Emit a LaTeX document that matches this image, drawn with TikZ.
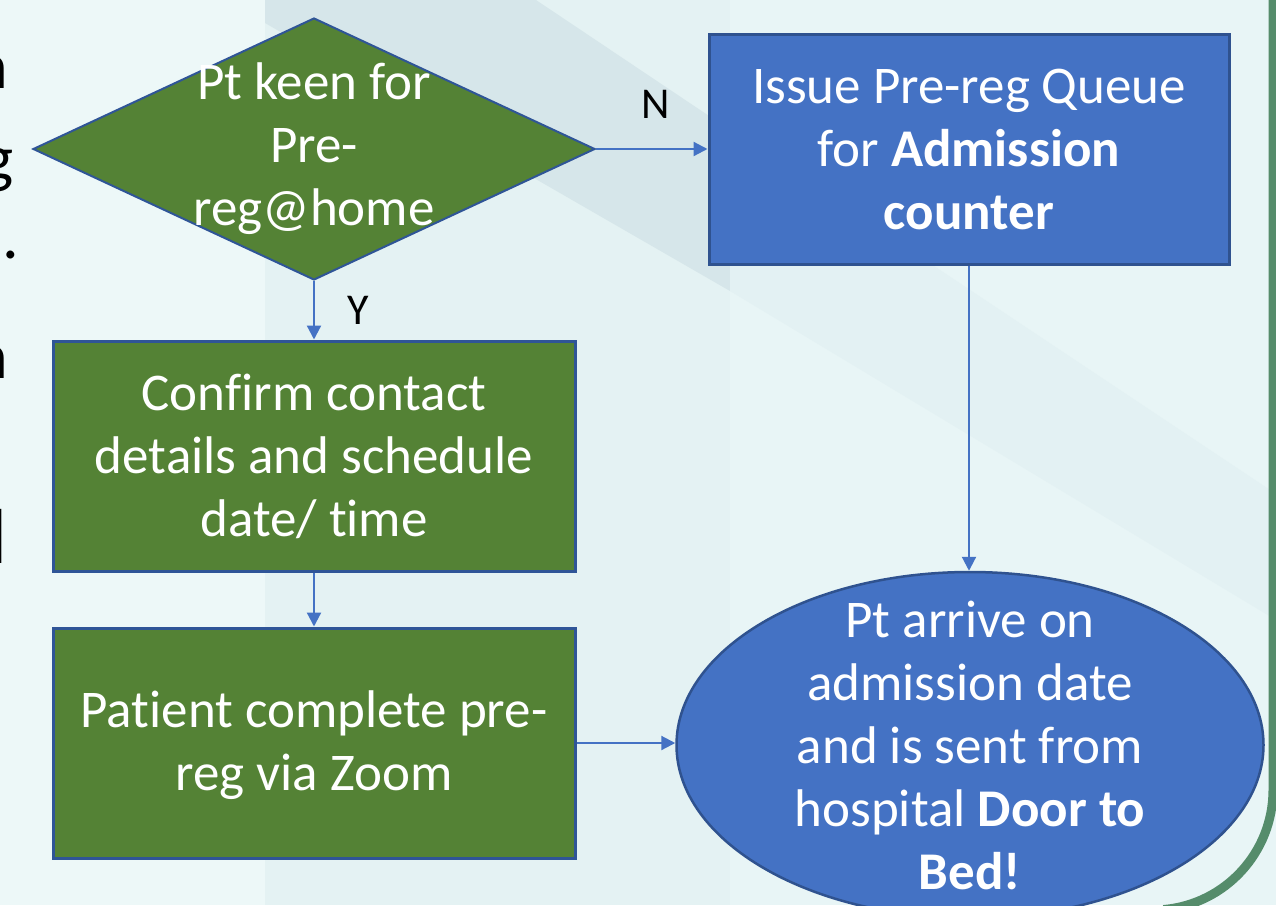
\documentclass[tikz,border=0pt]{standalone}
\usepackage{fontspec}
\setmainfont{Carlito}[Ligatures={NoCommon}]
\usetikzlibrary{shapes.geometric,arrows.meta}
\definecolor{bgbase}{HTML}{E8F5F6}
\definecolor{bgleft}{HTML}{EDF8F8}
\definecolor{bgmid}{HTML}{E4F2F3}
\definecolor{bgdark}{HTML}{D6E6EA}
\definecolor{bgband}{HTML}{E3F1F3}
\definecolor{gfill}{HTML}{548235}
\definecolor{gline}{HTML}{2F5597}
\definecolor{bfill}{HTML}{4472C4}
\definecolor{bline}{HTML}{2F528F}
\definecolor{arrowc}{HTML}{4472C4}
\definecolor{frame}{HTML}{558C6B}
\tikzset{
  bigtext/.style={font=\fontsize{53}{63}\selectfont, text=white, align=center, inner sep=0pt},
  greenbox/.style={draw=gline, line width=3pt, fill=gfill, rectangle, inner sep=0pt, minimum width=522pt, minimum height=230pt},
  bluebox/.style={draw=bline, line width=3pt, fill=bfill, rectangle, inner sep=0pt, minimum width=520pt, minimum height=230pt},
  conn/.style={draw=arrowc, line width=2.2pt, -{Triangle[length=14pt,width=14pt]}},
  yn/.style={font=\fontsize{44}{52}\selectfont, text=black, inner sep=0pt},
  frag/.style={font=\fontsize{66}{80}\selectfont, text=black, inner sep=0pt}
}
\begin{document}
\begin{tikzpicture}[x=1pt,y=-1pt]
\useasboundingbox (0,0) rectangle (1276,905);
\clip (0,0) rectangle (1276,905);
% background
\fill[bgbase] (0,0) rectangle (1276,905);
\fill[bgleft] (0,0) rectangle (265,905);
\fill[bgmid] (265,0) rectangle (730,905);
\fill[bgdark] (265,0) -- (536,0) -- (730,130) -- (730,291) -- (265,23) -- cycle;
\fill[bgband] (730,130) -- (1276,494) -- (1276,620) -- (730,291) -- cycle;
% right frame
\draw[frame, line width=9pt] (1273,-10) -- (1273,790) arc[start angle=0, end angle=85, radius=120];
% cut-off text at left edge
\node[frag, anchor=base east] (f1) at (8,88) {n};
\node[frag, anchor=base east] (f2) at (14,180) {g};
\node[frag, anchor=base east] (f3) at (19,258) {.};
\node[frag, anchor=base east] (f4) at (8,378) {n};
\node[frag, font=\fontsize{78}{90}\selectfont, anchor=base east] (f5) at (8,563) {l};
% shapes
\node[diamond, draw=gline, line width=2pt, fill=gfill, inner sep=0pt, minimum width=562pt, minimum height=262pt] (dec) at (314,149) {};
\node[bigtext] (dectext) at (314,149) {Pt keen for\\Pre-\\reg@home};
\node[bluebox] (issue) at (969,149) {};
\node[bigtext] (issuetext) at (969,149) {Issue Pre-reg Queue\\for \textbf{Admission}\\\textbf{counter}};
\node[greenbox] (conf) at (314,456) {};
\node[bigtext] (conftext) at (314,456) {Confirm contact\\details and schedule\\date/ time};
\node[greenbox] (pat) at (314,743) {};
\node[bigtext] (pattext) at (314,745) {Patient complete pre-\\reg via Zoom};
\node[ellipse, draw=bline, line width=2.5pt, fill=bfill, inner sep=0pt, minimum width=587pt, minimum height=346pt] (ell) at (970,745) {};
\node[bigtext] (elltext) at (970,745) {Pt arrive on\\admission date\\and is sent from\\hospital \textbf{Door to}\\\textbf{Bed!}};
% connectors
\draw[conn] (dec.east) -- (issue.west |- dec.east);
\draw[conn] (dec.south) -- (conf.north);
\draw[conn] (conf.south) -- (pat.north);
\draw[conn] (pat.east) -- (ell.west |- pat.east);
\draw[conn] (issue.south) -- (issue.south |- ell.north);
% labels
\node[yn] (nlab) at (656,104) {N};
\node[yn] (ylab) at (358,310) {Y};
\end{tikzpicture}
\end{document}
